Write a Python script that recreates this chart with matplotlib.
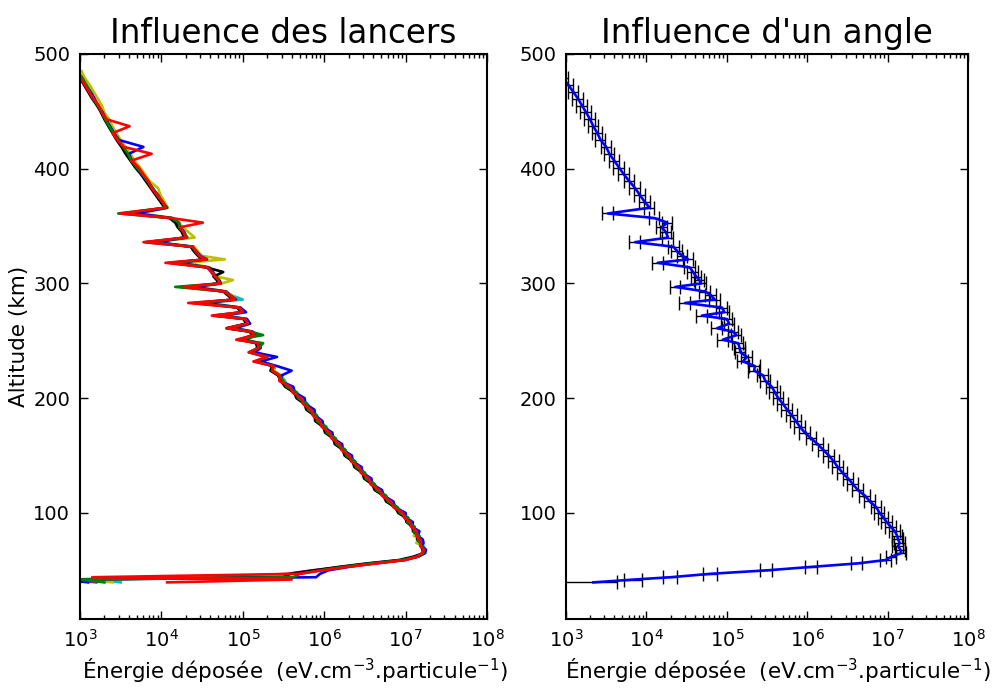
import numpy as np
import matplotlib
matplotlib.use("Agg")
import matplotlib.pyplot as plt
from matplotlib.ticker import LogLocator, FixedLocator

# altitude grid (km), shared by all profiles
altitudes = [485, 479, 473, 467, 461, 455, 449, 443, 437, 431,
             425, 419, 413, 407, 401, 395, 389, 383, 377, 371,
             366, 361, 357, 353, 349, 345, 340, 336, 332, 328,
             324, 321, 318, 314, 310, 306, 303, 300, 297, 293,
             290, 286, 283, 279, 275, 272, 269, 265, 261, 258,
             255, 251, 248, 244, 240, 236, 232, 228, 224, 220,
             215, 210, 205, 200, 195, 190, 185, 180, 175, 170,
             165, 160, 155, 150, 145, 140, 135, 130, 125, 120,
             115, 110, 105, 100, 96, 92, 88, 84, 80, 77,
             74, 71, 68, 65, 62, 59, 56, 53, 50, 47,
             44, 42, 39.5]

# log10 of deposited energy, one list per "lancer"
lancer_c = [2.96, 3.01, 3.08, 3.14, 3.18, 3.21, 3.28, 3.33, 3.35, 3.43,
            3.48, 3.52, 3.60, 3.65, 3.71, 3.76, 3.84, 3.90, 3.94, 4.02,
            4.07, 3.70, 4.13, 4.19, 4.24, 4.28, 4.31, 3.95, 4.40, 4.43,
            4.48, 4.56, 4.25, 4.58, 4.63, 4.67, 4.71, 4.74, 4.40, 4.80,
            4.85, 5.00, 4.55, 4.97, 5.01, 4.75, 5.05, 5.07, 4.90, 5.11,
            5.15, 5.02, 5.19, 5.22, 5.15, 5.31, 5.22, 5.40, 5.38, 5.47,
            5.52, 5.55, 5.67, 5.70, 5.80, 5.82, 5.91, 5.93, 6.03, 6.05,
            6.14, 6.17, 6.26, 6.29, 6.38, 6.41, 6.50, 6.53, 6.62, 6.66,
            6.76, 6.80, 6.90, 6.95, 7.03, 7.04, 7.11, 7.12, 7.17, 7.18,
            7.21, 7.22, 7.24, 7.23, 7.12, 6.95, 6.55, 6.20, 5.90, 5.60,
            5.40, 3.20, 3.50]
lancer_m = [2.97, 3.03, 3.06, 3.11, 3.16, 3.23, 3.26, 3.31, 3.37, 3.41,
            3.46, 3.54, 3.57, 3.63, 3.69, 3.78, 3.82, 3.88, 3.96, 4.00,
            4.05, 3.55, 4.11, 4.21, 4.21, 4.26, 4.29, 3.80, 4.37, 4.41,
            4.46, 4.54, 4.10, 4.56, 4.61, 4.65, 4.69, 4.71, 4.25, 4.77,
            4.82, 4.89, 4.40, 4.94, 4.99, 4.65, 5.02, 5.05, 4.82, 5.09,
            5.13, 4.95, 5.17, 5.19, 5.08, 5.29, 5.16, 5.37, 5.35, 5.44,
            5.46, 5.55, 5.62, 5.69, 5.75, 5.81, 5.87, 5.92, 5.98, 6.04,
            6.10, 6.16, 6.22, 6.28, 6.34, 6.40, 6.46, 6.52, 6.58, 6.65,
            6.72, 6.79, 6.86, 6.94, 6.99, 7.03, 7.07, 7.11, 7.13, 7.16,
            7.17, 7.19, 7.21, 7.21, 7.14, 6.97, 6.60, 6.25, 5.85, 5.55,
            4.80, 2.90, 3.20]
lancer_y = [3.02, 3.06, 3.12, 3.17, 3.22, 3.27, 3.30, 3.36, 3.40, 3.45,
            3.50, 3.56, 3.62, 3.67, 3.74, 3.80, 3.86, 3.96, 3.99, 4.04,
            4.08, 3.75, 4.15, 4.22, 4.26, 4.33, 4.41, 3.90, 4.40, 4.45,
            4.50, 4.78, 4.30, 4.60, 4.64, 4.68, 4.88, 4.74, 4.45, 4.80,
            4.86, 4.93, 4.60, 4.97, 5.02, 4.80, 5.05, 5.08, 4.92, 5.12,
            5.16, 5.05, 5.20, 5.22, 5.18, 5.31, 5.24, 5.39, 5.38, 5.46,
            5.51, 5.55, 5.66, 5.69, 5.79, 5.81, 5.91, 5.92, 6.02, 6.04,
            6.12, 6.18, 6.24, 6.30, 6.36, 6.42, 6.48, 6.54, 6.60, 6.67,
            6.74, 6.81, 6.88, 6.95, 7.00, 7.04, 7.08, 7.12, 7.10, 7.18,
            7.13, 7.21, 7.22, 7.22, 7.16, 6.98, 6.58, 6.22, 5.92, 5.62,
            4.60, 3.10, 3.40]
lancer_k = [2.95, 3.00, 3.05, 3.10, 3.15, 3.21, 3.26, 3.30, 3.35, 3.40,
            3.45, 3.51, 3.56, 3.62, 3.68, 3.75, 3.81, 3.87, 3.93, 3.99,
            4.04, 3.65, 4.10, 4.17, 4.20, 4.25, 4.28, 3.90, 4.36, 4.40,
            4.45, 4.52, 4.18, 4.55, 4.76, 4.64, 4.68, 4.70, 4.35, 4.76,
            4.81, 4.88, 4.50, 4.93, 4.98, 4.72, 5.01, 5.04, 4.80, 5.08,
            5.12, 4.98, 5.16, 5.18, 5.12, 5.28, 5.20, 5.36, 5.34, 5.43,
            5.47, 5.52, 5.63, 5.66, 5.76, 5.78, 5.88, 5.89, 5.99, 6.01,
            6.11, 6.13, 6.23, 6.25, 6.35, 6.37, 6.47, 6.49, 6.59, 6.62,
            6.73, 6.76, 6.87, 6.91, 7.00, 7.01, 7.09, 7.09, 7.16, 7.14,
            7.18, 7.19, 7.21, 7.22, 7.10, 6.92, 6.52, 6.18, 5.88, 5.58,
            5.50, 2.70, 3.00]
lancer_b = [2.97, 3.02, 3.07, 3.13, 3.18, 3.22, 3.28, 3.32, 3.37, 3.42,
            3.48, 3.78, 3.60, 3.64, 3.71, 3.76, 3.84, 3.89, 3.96, 4.01,
            4.07, 3.68, 4.13, 4.21, 4.23, 4.28, 4.31, 3.92, 4.38, 4.43,
            4.48, 4.56, 4.20, 4.58, 4.63, 4.67, 4.71, 4.73, 4.38, 4.79,
            4.84, 4.92, 4.52, 4.97, 5.04, 4.74, 5.05, 5.09, 4.90, 5.12,
            5.16, 5.02, 5.20, 5.22, 5.14, 5.42, 5.22, 5.42, 5.60, 5.48,
            5.46, 5.62, 5.64, 5.76, 5.77, 5.88, 5.89, 5.98, 5.99, 6.10,
            6.11, 6.22, 6.23, 6.34, 6.35, 6.46, 6.47, 6.58, 6.59, 6.71,
            6.73, 6.85, 6.87, 7.00, 7.00, 7.09, 7.08, 7.17, 7.15, 7.21,
            7.22, 7.20, 7.25, 7.24, 7.16, 6.99, 6.62, 6.30, 6.05, 5.95,
            5.90, 2.80, 3.10]
lancer_g = [2.96, 3.03, 3.08, 3.12, 3.16, 3.22, 3.27, 3.31, 3.36, 3.41,
            3.47, 3.53, 3.59, 3.63, 3.70, 3.77, 3.83, 3.89, 3.95, 4.01,
            4.06, 3.47, 4.12, 4.22, 4.22, 4.27, 4.32, 3.82, 4.38, 4.42,
            4.47, 4.56, 4.12, 4.57, 4.62, 4.66, 4.70, 4.72, 4.17, 4.78,
            4.83, 4.91, 4.42, 4.95, 5.00, 4.64, 5.03, 5.06, 4.83, 5.10,
            5.25, 4.93, 5.25, 5.20, 5.07, 5.30, 5.15, 5.38, 5.36, 5.45,
            5.50, 5.54, 5.66, 5.68, 5.79, 5.80, 5.91, 5.91, 6.02, 6.03,
            6.14, 6.15, 6.26, 6.27, 6.38, 6.39, 6.50, 6.51, 6.62, 6.64,
            6.76, 6.78, 6.90, 6.93, 7.03, 7.02, 7.11, 7.10, 7.17, 7.15,
            7.18, 7.20, 7.22, 7.22, 7.15, 6.96, 6.58, 6.24, 5.95, 5.70,
            5.62, 3.00, 3.30]
lancer_r = [2.94, 3.01, 3.06, 3.11, 3.17, 3.23, 3.27, 3.33, 3.61, 3.40,
            3.46, 3.54, 3.88, 3.63, 3.72, 3.78, 3.84, 3.88, 3.95, 4.02,
            4.05, 3.50, 4.12, 4.51, 4.23, 4.27, 4.30, 3.78, 4.39, 4.42,
            4.47, 4.55, 4.05, 4.57, 4.62, 4.66, 4.70, 4.72, 4.28, 4.78,
            4.83, 4.90, 4.33, 4.96, 5.00, 4.62, 5.03, 5.06, 4.80, 5.10,
            5.14, 4.92, 5.18, 5.20, 5.08, 5.30, 5.13, 5.38, 5.36, 5.45,
            5.45, 5.58, 5.61, 5.72, 5.74, 5.84, 5.86, 5.95, 5.97, 6.07,
            6.09, 6.19, 6.21, 6.31, 6.33, 6.43, 6.45, 6.55, 6.57, 6.68,
            6.71, 6.82, 6.85, 6.97, 6.98, 7.06, 7.07, 7.14, 7.13, 7.18,
            7.19, 7.18, 7.23, 7.20, 7.14, 7.00, 6.64, 6.28, 5.98, 5.70,
            3.15, 5.60, 4.07]

# right panel: one profile with an angle, plus relative error
energie_angle = [2.90, 2.96, 3.03, 3.09, 3.15, 3.20, 3.25, 3.30, 3.34, 3.39,
                 3.43, 3.50, 3.54, 3.60, 3.66, 3.72, 3.79, 3.86, 3.92, 3.98,
                 4.04, 3.52, 4.10, 4.26, 4.19, 4.24, 4.27, 3.86, 4.34, 4.38,
                 4.45, 4.52, 4.14, 4.54, 4.58, 4.62, 4.66, 4.68, 4.36, 4.73,
                 4.80, 4.85, 4.48, 4.94, 4.97, 4.69, 5.00, 5.03, 4.88, 5.08,
                 5.12, 4.95, 5.14, 5.16, 5.17, 5.25, 5.20, 5.35, 5.34, 5.45,
                 5.48, 5.56, 5.60, 5.64, 5.70, 5.75, 5.81, 5.86, 5.91, 5.97,
                 6.05, 6.13, 6.20, 6.27, 6.33, 6.38, 6.44, 6.51, 6.57, 6.63,
                 6.72, 6.78, 6.86, 6.90, 6.95, 6.99, 7.04, 7.09, 7.12, 7.13,
                 7.15, 7.13, 7.16, 7.17, 7.05, 6.98, 6.62, 6.05, 5.50, 4.80,
                 4.30, 3.85, 3.34]
erreur_rel = [0.15] * 96 + [0.15, 0.17, 0.17, 0.2, 0.2, 0.25, 0.95]

lancers = [lancer_c, lancer_m, lancer_y, lancer_k, lancer_b, lancer_g, lancer_r]
couleurs = ["c", "m", "y", "k", "b", "g", "r"]

xlabel = r"Énergie déposée  (eV.cm$^{-3}$.particule$^{-1}$)"

fig = plt.figure(figsize=(9.97, 6.91), dpi=100)
fig.patch.set_facecolor("white")
ax1 = fig.add_axes([0.0802, 0.1042, 0.4083, 0.8177])
ax2 = fig.add_axes([0.5677, 0.1042, 0.4032, 0.8177])

for vals, col in zip(lancers, couleurs):
    ax1.plot(10 ** np.array(vals), altitudes, color=col, linewidth=1.9)

e_angle = 10 ** np.array(energie_angle)
ax2.errorbar(e_angle, altitudes, xerr=e_angle * np.array(erreur_rel),
             fmt="-", color="b", ecolor="k", elinewidth=1.0,
             capsize=5, capthick=1.0, linewidth=1.9)

for ax, titre in [(ax1, "Influence des lancers"), (ax2, "Influence d'un angle")]:
    ax.set_xscale("log")
    ax.set_xlim(1e3, 1e8)
    ax.set_ylim(7.6, 500)
    ax.yaxis.set_major_locator(FixedLocator([100, 200, 300, 400, 500]))
    ax.xaxis.set_major_locator(LogLocator(base=10, numticks=10))
    ax.xaxis.set_minor_locator(LogLocator(base=10, subs=np.arange(2, 10), numticks=20))
    ax.tick_params(which="both", direction="in", top=True, right=True)
    ax.tick_params(which="major", length=5.5, width=1, labelsize=14, pad=7)
    ax.tick_params(which="minor", length=3, width=1)
    for sp in ax.spines.values():
        sp.set_linewidth(1.5)
    ax.set_title(titre, fontsize=23.5, pad=8)
    ax.set_xlabel(xlabel, fontsize=15.5)
    ax.xaxis.set_label_coords(0.528, -0.066)

ax1.set_ylabel("Altitude (km)", fontsize=15.5, labelpad=3)

fig.savefig("out.png", dpi=100, facecolor="white")
